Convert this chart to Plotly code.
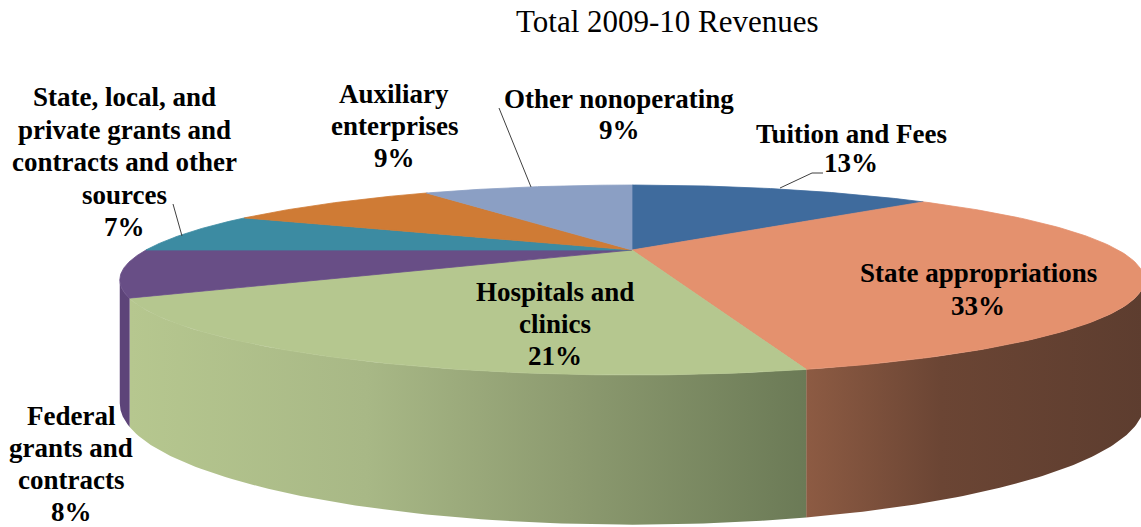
import numpy as np
import plotly.graph_objects as go

# ---------------- data ----------------
categories = ["Tuition and Fees", "State appropriations", "Hospitals and clinics",
              "Federal grants and contracts",
              "State, local, and private grants and contracts and other sources",
              "Auxiliary enterprises", "Other nonoperating"]
values = [13, 33, 21, 8, 7, 9, 9]   # percent, clockwise from 12 o'clock
title_text = "Total 2009-10 Revenues"

# label line wrapping (text only)
label_lines = [
    ["Tuition and Fees"],
    ["State appropriations"],
    ["Hospitals and", "clinics"],
    ["Federal", "grants and", "contracts"],
    ["State, local, and", "private grants and", "contracts and other", "sources"],
    ["Auxiliary", "enterprises"],
    ["Other nonoperating"],
]

# ---------------- style ----------------
top_colors = ["#3f6b9d", "#e4916e", "#b5c78f", "#684e86", "#3c8ba2", "#cf7b35", "#8b9fc4"]
wall_scales = [
    [[0, "#2f5180"], [1, "#2f5180"]],
    [[0, "#8d5b43"], [0.4, "#6b4534"], [1, "#5d3d2f"]],
    [[0, "#b6c78f"], [0.35, "#a8b886"], [0.65, "#8d9b70"], [1, "#6b7a56"]],
    [[0, "#5d4479"], [1, "#5d4479"]],
    [[0, "#2f6f82"], [1, "#2f6f82"]],
    [[0, "#a8622a"], [1, "#a8622a"]],
    [[0, "#6f809e"], [1, "#6f809e"]],
]
# label anchor (center x, first-line center y) and line step, in pixels
label_pos = [(851, 134), (978, 273), (555, 292), (71, 416), (124, 97), (394, 94), (619, 99)]
line_steps = [29, 32.5, 32, 32, 32.5, 32, 31]
leaders = [
    [(780, 188), (812, 173), (823, 173)],
    [(531, 187), (499, 108)],
    [(182, 236), (173, 204)],
]

W, H = 1141, 527
CX, CY, RX, RY, K = 632, 250, 486, 85.5, 0.316
H0, H1 = 115, 75

def proj(theta_deg):
    t = np.radians(theta_deg)
    s = 1.0 / (1.0 + K * np.cos(t))
    return CX + RX * np.sin(t) * s, CY - RY * np.cos(t) * s, s

fig = go.Figure()

cum = np.concatenate([[0], np.cumsum(values)])
ang = cum / cum[-1] * 360.0
A0 = np.degrees(np.arccos(-K))
A1 = 360 - A0

# side walls (front half only)
for i in range(len(values)):
    a, b = max(ang[i], A0), min(ang[i + 1], A1)
    if b <= a:
        continue
    th = np.linspace(a, b, 80)
    x, y, s = proj(th)
    drop = H0 + H1 * (s - 1)
    xs = np.concatenate([x, x[::-1], [x[0]]])
    ys = np.concatenate([y, (y + drop)[::-1], [y[0]]])
    fig.add_trace(go.Scatter(
        x=xs, y=ys, mode="lines", fill="toself",
        line=dict(width=0),
        fillgradient=dict(type="horizontal", colorscale=wall_scales[i],
                          start=float(x.min()), stop=float(x.max())),
        hoverinfo="skip", showlegend=False))

# top faces
for i in range(len(values)):
    th = np.linspace(ang[i], ang[i + 1], 120)
    x, y, _ = proj(th)
    xs = np.concatenate([[CX], x, [CX]])
    ys = np.concatenate([[CY], y, [CY]])
    fig.add_trace(go.Scatter(
        x=xs, y=ys, mode="lines", fill="toself",
        line=dict(width=0.8, color=top_colors[i]), fillcolor=top_colors[i],
        hoverinfo="skip", showlegend=False, name=categories[i]))

annotations = []
font = dict(family="Liberation Serif, Times New Roman, serif", size=27, color="black")
for i in range(len(values)):
    lines = label_lines[i] + [f"{values[i]}%"]
    x0, y0 = label_pos[i]
    for j, ln in enumerate(lines):
        annotations.append(dict(x=x0, y=y0 + j * line_steps[i], xref="x", yref="y",
                                text=f"<b>{ln}</b>", showarrow=False, font=font,
                                xanchor="center", yanchor="middle"))
annotations.append(dict(x=667, y=21, xref="x", yref="y", text=title_text, showarrow=False,
                        font=dict(family="Liberation Serif, Times New Roman, serif", size=31,
                                  color="black"),
                        xanchor="center", yanchor="middle"))

shapes = []
for pts in leaders:
    for p, q in zip(pts[:-1], pts[1:]):
        shapes.append(dict(type="line", xref="x", yref="y", x0=p[0], y0=p[1], x1=q[0], y1=q[1],
                           line=dict(color="#404040", width=1)))

fig.update_layout(
    width=W, height=H, margin=dict(l=0, r=0, t=0, b=0),
    paper_bgcolor="white", plot_bgcolor="white",
    xaxis=dict(range=[0, W], visible=False, fixedrange=True),
    yaxis=dict(range=[H, 0], visible=False, fixedrange=True),
    annotations=annotations, shapes=shapes, showlegend=False,
)
fig.write_html("out.html", config={"displayModeBar": False},
               post_script="document.body.style.margin='0';document.body.style.overflow='hidden';")
